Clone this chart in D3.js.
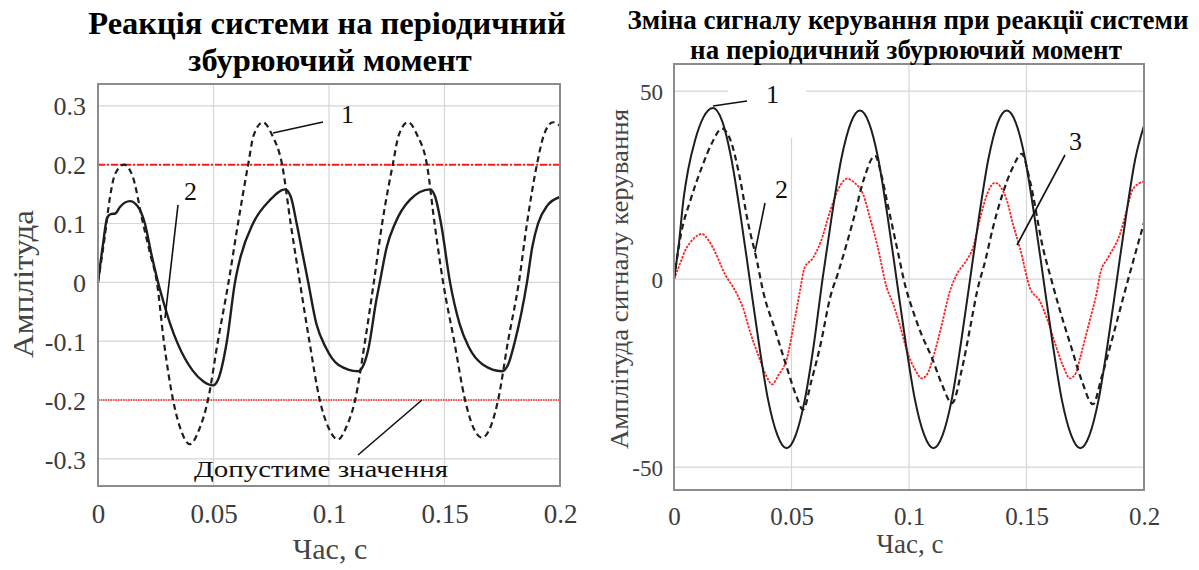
<!DOCTYPE html>
<html>
<head>
<meta charset="utf-8">
<script src="https://cdn.jsdelivr.net/npm/d3@7"></script>
<style>
  body { margin: 0; background: #fff; }
  text { font-family: "Liberation Serif", "Times New Roman", serif; }
</style>
</head>
<body>
<div id="chart"></div>
<script>
// left chart: reaction to periodic disturbance
var leftXTicks = [0, 0.05, 0.1, 0.15, 0.2];
var leftYTicks = [-0.3, -0.2, -0.1, 0, 0.1, 0.2, 0.3];
var leftLimits = [0.2, -0.2];

var leftCurve1 = [
  [0,0],[0.003,0.08],[0.005,0.14],[0.0075,0.185],[0.0113,0.2],[0.015,0.18],[0.0195,0.1],
  [0.0225,0.05],[0.0255,0],[0.0285,-0.1],[0.0325,-0.2],[0.036,-0.252],[0.0398,-0.275],
  [0.0438,-0.25],[0.0476,-0.2],[0.0519,-0.1],[0.0565,0],[0.0606,0.1],[0.065,0.2],
  [0.0674,0.25],[0.0714,0.272],[0.0754,0.25],[0.0797,0.2],[0.0834,0.1],[0.0874,0],
  [0.0915,-0.1],[0.096,-0.2],[0.0999,-0.248],[0.1039,-0.267],[0.1076,-0.245],[0.1113,-0.2],
  [0.1156,-0.1],[0.1194,0],[0.123,0.1],[0.1276,0.2],[0.1302,0.25],[0.1342,0.272],
  [0.1382,0.25],[0.1424,0.2],[0.1457,0.1],[0.1494,0],[0.1542,-0.1],[0.1589,-0.2],
  [0.1623,-0.245],[0.1662,-0.264],[0.17,-0.245],[0.1732,-0.2],[0.1775,-0.1],[0.1822,0],
  [0.1857,0.1],[0.19,0.2],[0.193,0.25],[0.197,0.272],[0.2,0.266]
];
var leftCurve2 = [
  [0,0],[0.002,0.06],[0.004,0.11],[0.0055,0.116],[0.0075,0.117],[0.0095,0.128],
  [0.0138,0.138],[0.017,0.13],[0.0203,0.1],[0.023,0.05],[0.026,0],[0.0281,-0.03],
  [0.0312,-0.07],[0.0346,-0.105],[0.041,-0.15],[0.0455,-0.168],[0.0498,-0.175],
  [0.052,-0.165],[0.0558,-0.1],[0.0593,0],[0.0615,0.04],[0.0671,0.1],[0.0745,0.14],
  [0.081,0.158],[0.0835,0.145],[0.086,0.1],[0.0885,0.05],[0.091,0],[0.0945,-0.07],
  [0.0985,-0.11],[0.104,-0.14],[0.1126,-0.151],[0.115,-0.14],[0.117,-0.114],
  [0.1205,-0.03],[0.122,0],[0.125,0.06],[0.1286,0.1],[0.135,0.14],[0.1437,0.158],
  [0.146,0.145],[0.1485,0.1],[0.1524,0],[0.1565,-0.07],[0.1605,-0.11],[0.1667,-0.14],
  [0.1749,-0.151],[0.1775,-0.14],[0.1805,-0.1],[0.1857,0],[0.188,0.06],[0.1905,0.1],
  [0.1944,0.13],[0.2,0.145]
];

// right chart: control signal
var rightXTicks = [0, 0.05, 0.1, 0.15, 0.2];
var rightYTicks = [-50, 0, 50];

var rightCurve1 = [
  [0,0],[0.002,9],[0.004,21],[0.006,29],[0.009,37],[0.0125,43],[0.0166,45.5],[0.0205,42],
  [0.0244,32],[0.0283,17],[0.0322,0],[0.0361,-17],[0.04,-32],[0.044,-41.5],[0.0479,-45],
  [0.0518,-41.5],[0.0557,-32],[0.0596,-17],[0.0632,0],[0.0672,17],[0.0712,32],[0.0752,41.5],
  [0.0791,44.8],[0.083,41.5],[0.0869,32],[0.0908,17],[0.0947,0],[0.0986,-17],[0.1025,-32],
  [0.1065,-41.5],[0.1104,-45],[0.1143,-41.5],[0.1182,-32],[0.1221,-17],[0.126,0],[0.1299,17],
  [0.1338,32],[0.1377,41.5],[0.1416,44.8],[0.1455,41.5],[0.1494,32],[0.1533,17],[0.1572,0],
  [0.1611,-17],[0.165,-32],[0.169,-41.5],[0.1729,-45],[0.1768,-41.5],[0.1807,-32],
  [0.1846,-17],[0.1885,0],[0.1924,17],[0.1963,32],[0.2,40.8]
];
var rightCurve2 = [
  [0,0],[0.003,12],[0.007,21],[0.012,30],[0.016,36],[0.0204,40],[0.024,37],[0.028,27],
  [0.0315,15],[0.0353,4.8],[0.0379,-3.2],[0.043,-13.5],[0.0481,-23.7],[0.052,-31],
  [0.0549,-34.7],[0.0585,-27],[0.0625,-17],[0.0664,-5],[0.07,2],[0.0762,15.5],[0.081,27],
  [0.0855,32.8],[0.0885,27],[0.0906,20.8],[0.0949,8.3],[0.0985,-2],[0.1017,-8.5],
  [0.1055,-15],[0.1098,-21],[0.114,-28],[0.1183,-33],[0.1225,-24],[0.126,-13],[0.129,-3.2],
  [0.1325,5],[0.1357,13.6],[0.1395,22],[0.144,29.5],[0.148,33.3],[0.1515,26],[0.157,8.3],
  [0.1605,0],[0.1643,-8.5],[0.169,-18],[0.1735,-27],[0.1783,-33.3],[0.182,-26],[0.186,-17],
  [0.1919,-3.2],[0.1955,5],[0.2,15]
];
var rightCurve3 = [
  [0,0],[0.0025,4],[0.0047,7.5],[0.008,10.5],[0.0119,12],[0.0145,10.5],[0.0166,8.3],
  [0.0217,1.3],[0.0268,-4],[0.0294,-7.7],[0.0323,-13.9],[0.036,-20.5],[0.0395,-26],
  [0.0417,-28],[0.0445,-25.5],[0.0481,-21],[0.051,-12],[0.0536,-3.2],[0.0555,2.9],
  [0.0591,5.6],[0.0625,10],[0.0664,18],[0.07,24],[0.0736,26.7],[0.077,25.5],[0.0804,22.7],
  [0.0835,16],[0.0864,9.3],[0.0906,-2.4],[0.0932,-6.5],[0.096,-12],[0.0991,-19],
  [0.1025,-24],[0.1055,-26.4],[0.108,-25],[0.1102,-21],[0.114,-12],[0.1174,-3.2],
  [0.1204,1.3],[0.1245,5],[0.1272,8.3],[0.1302,16],[0.1335,23],[0.1366,25.6],[0.139,24.5],
  [0.1417,20.8],[0.1445,14],[0.1472,8.3],[0.1515,-2.4],[0.1557,-5.9],[0.159,-11],
  [0.1621,-17],[0.1655,-23],[0.1685,-26.4],[0.171,-25],[0.1728,-21],[0.1765,-12],
  [0.18,-3.2],[0.1813,1.3],[0.185,6],[0.1898,12],[0.1925,18],[0.1953,24],[0.2,26]
];

var svg = d3.select("#chart")
  .append("svg")
  .attr("width", 1199)
  .attr("height", 570);

function drawPanel(opt) {
  var x = d3.scaleLinear().domain([0, 0.2]).range([opt.left, opt.right]);
  var y = d3.scaleLinear().domain(opt.yDomain).range([opt.bottom, opt.top]);
  var g = svg.append("g");

  // grid
  g.selectAll(".vgrid")
    .data(opt.xTicks.slice(1, -1))
    .enter().append("line")
    .attr("x1", function(d) { return x(d); })
    .attr("x2", function(d) { return x(d); })
    .attr("y1", opt.top)
    .attr("y2", opt.bottom)
    .style("stroke", "#d6d6d6")
    .style("stroke-width", 1.2);

  g.selectAll(".hgrid")
    .data(opt.yTicks)
    .enter().append("line")
    .attr("x1", opt.left)
    .attr("x2", opt.right)
    .attr("y1", function(d) { return y(d); })
    .attr("y2", function(d) { return y(d); })
    .style("stroke", "#d6d6d6")
    .style("stroke-width", 1.2);

  // axes (labels only)
  var xAxis = g.append("g")
    .attr("transform", "translate(0," + (opt.bottom + opt.xLabelGap) + ")")
    .call(d3.axisBottom(x).tickValues(opt.xTicks).tickSize(0).tickFormat(function(d) { return String(d); }));
  var yAxis = g.append("g")
    .attr("transform", "translate(" + (opt.left - opt.yLabelGap) + ",0)")
    .call(d3.axisLeft(y).tickValues(opt.yTicks).tickSize(0).tickFormat(function(d) { return String(d); }));
  [xAxis, yAxis].forEach(function(a) {
    a.attr("font-family", null);
    a.select(".domain").remove();
    a.selectAll("text")
      .style("font-family", "'Liberation Serif', serif")
      .style("fill", "#3c3c3c");
  });
  xAxis.selectAll("text").attr("dy", "0.71em").style("font-size", opt.xTickFont + "px");
  yAxis.selectAll("text").attr("dy", "0.35em").style("font-size", opt.yTickFont + "px");

  return { g: g, x: x, y: y };
}

function frame(p, opt) {
  p.g.append("rect")
    .attr("x", opt.left)
    .attr("y", opt.top)
    .attr("width", opt.right - opt.left)
    .attr("height", opt.bottom - opt.top)
    .style("fill", "none")
    .style("stroke", "#8c8c8c")
    .style("stroke-width", 2);
}

function curve(p, data, color, width, dash) {
  var line = d3.line()
    .x(function(d) { return p.x(d[0]); })
    .y(function(d) { return p.y(d[1]); })
    .curve(d3.curveMonotoneX);
  p.g.append("path")
    .datum(data)
    .attr("d", line)
    .style("fill", "none")
    .style("stroke", color)
    .style("stroke-width", width)
    .style("stroke-dasharray", dash);
}

function leader(g, x1, y1, x2, y2) {
  g.append("line")
    .attr("x1", x1).attr("y1", y1)
    .attr("x2", x2).attr("y2", y2)
    .style("stroke", "#111")
    .style("stroke-width", 1.6);
}

function label(g, x, y, txt, size) {
  return g.append("text")
    .attr("x", x)
    .attr("y", y)
    .style("font-size", size + "px")
    .style("fill", "#111")
    .text(txt);
}

// ---- left panel
var leftOpt = {
  left: 98, right: 560, top: 84, bottom: 486,
  yDomain: [-0.346, 0.337],
  xTicks: leftXTicks, yTicks: leftYTicks,
  xLabelGap: 15, yLabelGap: 9, xTickFont: 27, yTickFont: 26
};
var L = drawPanel(leftOpt);

curve(L, [[0, leftLimits[0]], [0.2, leftLimits[0]]], "#ff1a1a", 2, "7,2,2,2");
curve(L, [[0, leftLimits[1]], [0.2, leftLimits[1]]], "#ff4d4d", 2, "1.5,1");
curve(L, leftCurve1, "#1e1e1e", 2.2, "6,4");
curve(L, leftCurve2, "#1e1e1e", 2.4, null);
frame(L, leftOpt);

leader(L.g, 273, 133, 323, 122);
label(L.g, 341, 123, "1", 26);
leader(L.g, 178, 205, 165, 318);
label(L.g, 184, 200, "2", 26);
leader(L.g, 358, 455, 422, 400);
label(L.g, 194, 477, "Допустиме значення", 24)
  .attr("textLength", 254)
  .attr("lengthAdjust", "spacingAndGlyphs");

L.g.append("text")
  .attr("x", 330).attr("y", 559)
  .style("font-size", "30px").style("text-anchor", "middle").style("fill", "#444")
  .text("Час, с");
L.g.append("text")
  .attr("transform", "translate(33,284) rotate(-90)")
  .style("font-size", "30px").style("text-anchor", "middle").style("fill", "#444")
  .attr("textLength", 148)
  .attr("lengthAdjust", "spacingAndGlyphs")
  .text("Амплітуда");

L.g.append("text")
  .attr("x", 327).attr("y", 34)
  .style("font-size", "32.5px").style("font-weight", "bold").style("text-anchor", "middle")
  .text("Реакція системи на періодичний");
L.g.append("text")
  .attr("x", 330).attr("y", 71)
  .style("font-size", "32.5px").style("font-weight", "bold").style("text-anchor", "middle")
  .text("збурюючий момент");

// ---- right panel
var rightOpt = {
  left: 674, right: 1144, top: 64, bottom: 490,
  yDomain: [-56.1, 57.2],
  xTicks: rightXTicks, yTicks: rightYTicks,
  xLabelGap: 14, yLabelGap: 8, xTickFont: 25, yTickFont: 23
};
var R = drawPanel(rightOpt);

// white box behind label "1"
R.g.append("rect")
  .attr("x", 728).attr("y", 66).attr("width", 78).attr("height", 34)
  .style("fill", "#fff");
R.g.append("rect")
  .attr("x", 786).attr("y", 66).attr("width", 14).attr("height", 72)
  .style("fill", "#fff");

curve(R, rightCurve3, "#ff2020", 1.8, "2.5,1.2");
curve(R, rightCurve2, "#1e1e1e", 2.2, "6,4");
curve(R, rightCurve1, "#1e1e1e", 2, null);
frame(R, rightOpt);

leader(R.g, 713, 106, 747, 101);
label(R.g, 766, 103, "1", 26);
leader(R.g, 765, 203, 755, 252);
label(R.g, 775, 198, "2", 26);
leader(R.g, 1065, 155, 1017, 245);
label(R.g, 1069, 150, "3", 26);

R.g.append("text")
  .attr("x", 910).attr("y", 553)
  .style("font-size", "27px").style("text-anchor", "middle").style("fill", "#444")
  .text("Час, с");
R.g.append("text")
  .attr("transform", "translate(628,279) rotate(-90)")
  .style("font-size", "25px").style("text-anchor", "middle").style("fill", "#444")
  .attr("textLength", 340)
  .attr("lengthAdjust", "spacingAndGlyphs")
  .text("Амплітуда сигналу керування");

R.g.append("text")
  .attr("x", 908).attr("y", 29)
  .style("font-size", "27px").style("font-weight", "bold").style("text-anchor", "middle")
  .text("Зміна сигналу керування при реакції системи");
R.g.append("text")
  .attr("x", 906).attr("y", 59)
  .style("font-size", "27px").style("font-weight", "bold").style("text-anchor", "middle")
  .text("на періодичний збурюючий момент");
</script>
</body>
</html>
